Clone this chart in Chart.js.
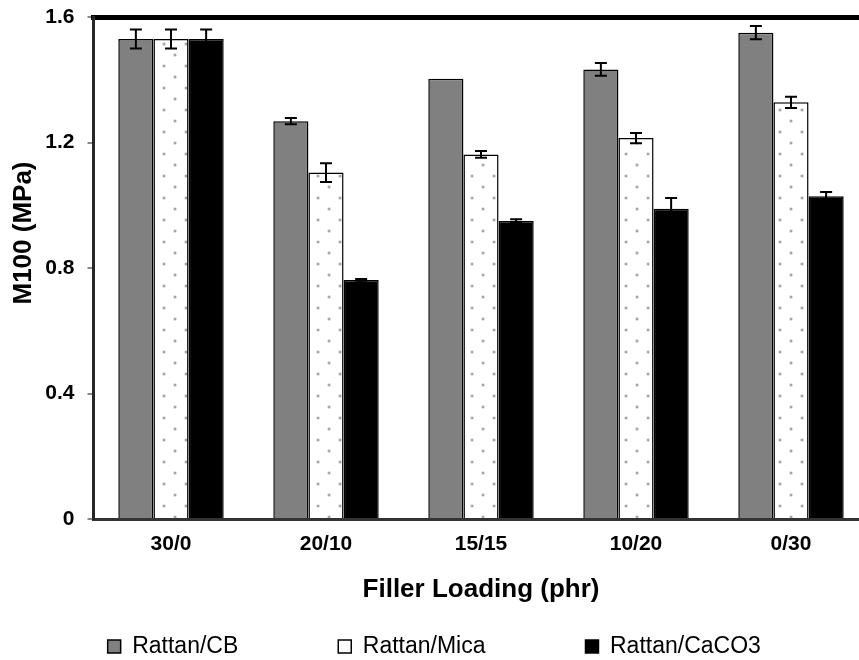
<!DOCTYPE html>
<html><head><meta charset="utf-8">
<script src="https://cdn.jsdelivr.net/npm/chart.js@4.4.1/dist/chart.umd.min.js"></script>
<style>html,body{margin:0;padding:0;background:#fff;overflow:hidden}#wrap{width:859px;height:660px;overflow:hidden;position:relative;background:#fff}canvas{display:block}</style>
</head><body><div id="wrap"><canvas id="c" width="870" height="660"></canvas></div>
<script>
const categories = ['30/0', '20/10', '15/15', '10/20', '0/30'];
const seriesNames = ['Rattan/CB', 'Rattan/Mica', 'Rattan/CaCO3'];
const cbValues = [1.53, 1.268, 1.403, 1.433, 1.55];
const micaValues = [1.53, 1.104, 1.162, 1.214, 1.328];
const caco3Values = [1.53, 0.762, 0.950, 0.989, 1.029];
const cbErrors = [0.03, 0.01, 0, 0.02, 0.021];
const micaErrors = [0.03, 0.03, 0.011, 0.016, 0.018];
const caco3Errors = [0.03, 0.003, 0.005, 0.034, 0.013];
const yTickValues = [0, 0.4, 0.8, 1.2, 1.6];
const yTickLabels = ['0', '0.4', '0.8', '1.2', '1.6'];
const xTitle = 'Filler Loading (phr)';
const yTitle = 'M100 (MPa)';

const FONT = "'Liberation Sans', Arial, sans-serif";
Chart.defaults.font.family = FONT;
Chart.defaults.color = '#000';

// dotted pattern for the Mica series
function makeDots() {
  const c = document.createElement('canvas');
  c.width = 22; c.height = 22;
  const g = c.getContext('2d');
  g.fillStyle = '#fff'; g.fillRect(0, 0, 22, 22);
  g.fillStyle = '#7a7a7a';
  [[5.5, 5.5], [16.5, 16.5]].forEach(([x, y]) => { g.beginPath(); g.arc(x, y, 1.25, 0, Math.PI * 2); g.fill(); });
  const ctx = document.getElementById('c').getContext('2d');
  const p = ctx.createPattern(c, 'repeat');
  if (p.setTransform) p.setTransform(new DOMMatrix().translate(4.5, 16.5));
  return p;
}
const micaFill = makeDots();

const errorBarPlugin = {
  id: 'errorBars',
  afterDatasetsDraw(chart) {
    const ctx = chart.ctx, ys = chart.scales.y;
    chart.data.datasets.forEach((ds, i) => {
      const meta = chart.getDatasetMeta(i);
      if (meta.hidden) return;
      meta.data.forEach((bar, j) => {
        const e = ds.errors[j];
        if (!e) return;
        const v = ds.data[j];
        const yt = ys.getPixelForValue(v + e), yb = ys.getPixelForValue(v - e);
        ctx.save();
        ctx.strokeStyle = '#000'; ctx.lineWidth = 2;
        ctx.beginPath();
        ctx.moveTo(bar.x, yt); ctx.lineTo(bar.x, yb);
        ctx.moveTo(bar.x - 6, yt); ctx.lineTo(bar.x + 6, yt);
        ctx.moveTo(bar.x - 6, yb); ctx.lineTo(bar.x + 6, yb);
        ctx.stroke();
        ctx.restore();
      });
    });
  }
};

const legendPlace = {
  id: 'legendPlace',
  afterLayout(chart) { if (chart.legend) chart.legend.top = 535; }
};

const yTitlePlugin = {
  id: 'yTitleDraw',
  afterDraw(chart) {
    const ctx = chart.ctx;
    ctx.save();
    ctx.translate(24, 233);
    ctx.rotate(-Math.PI / 2);
    ctx.font = 'bold 26px ' + FONT;
    ctx.fillStyle = '#000';
    ctx.textAlign = 'center';
    ctx.textBaseline = 'middle';
    ctx.fillText(chart.options.scales.y.title.text, 0, 0);
    ctx.restore();
  }
};

new Chart(document.getElementById('c'), {
  type: 'bar',
  data: {
    labels: categories,
    datasets: [
      { label: seriesNames[0], data: cbValues, errors: cbErrors, backgroundColor: '#808080', borderColor: '#000', borderWidth: 1.5 },
      { label: seriesNames[1], data: micaValues, errors: micaErrors, backgroundColor: micaFill, borderColor: '#000', borderWidth: 1.5 },
      { label: seriesNames[2], data: caco3Values, errors: caco3Errors, backgroundColor: '#000', borderColor: '#000', borderWidth: 1.5 }
    ]
  },
  options: {
    responsive: false,
    animation: false,
    categoryPercentage: 0.68,
    barPercentage: 1,
    layout: { padding: { top: 17, right: 1.5, left: 0, bottom: 0 } },
    plugins: {
      tooltip: { enabled: false },
      legend: {
        position: 'bottom',
        maxHeight: 40,
        labels: {
          boxWidth: 13, boxHeight: 13, padding: 100, color: '#000',
          font: { size: 23 },
          generateLabels(chart) {
            const items = Chart.defaults.plugins.legend.labels.generateLabels(chart);
            items.forEach(it => { if (it.datasetIndex === 1) it.fillStyle = '#fff'; it.lineWidth = 1.5; it.strokeStyle = '#000'; });
            return items;
          }
        }
      }
    },
    scales: {
      x: {
        grid: { display: false, drawTicks: false },
        border: { display: true, color: '#333', width: 3, z: 1 },
        ticks: { padding: 13, color: '#000', font: { size: 21, weight: 'bold' } },
        title: { display: true, text: xTitle, color: '#000', font: { size: 26, weight: 'bold' }, padding: { top: 0, bottom: 15 } },
        afterFit(s) { s.height = 101; }
      },
      xTop: {
        type: 'category', position: 'top',
        grid: { display: false, drawTicks: false },
        ticks: { display: false },
        border: { display: true, color: '#000', width: 5 },
        afterFit(s) { s.height = 0; s.paddingTop = 0; s.paddingBottom = 0; }
      },
      y: {
        min: 0, max: 1.6,
        afterBuildTicks(a) { a.ticks = yTickValues.map(v => ({ value: v })); },
        grid: { display: true, drawOnChartArea: false, drawTicks: true, tickLength: 6, color: '#888', lineWidth: 2 },
        border: { display: true, color: '#262626', width: 3, z: 1 },
        ticks: { padding: 13, color: '#000', font: { size: 21, weight: 'bold' }, callback: (v, i) => yTickLabels[i] },
        title: { display: false, text: yTitle },
        afterFit(s) { s.width = 93.5; s.paddingTop = 0; s.paddingBottom = 0; }
      }
    }
  },
  plugins: [errorBarPlugin, legendPlace, yTitlePlugin]
});
</script>
</body></html>
